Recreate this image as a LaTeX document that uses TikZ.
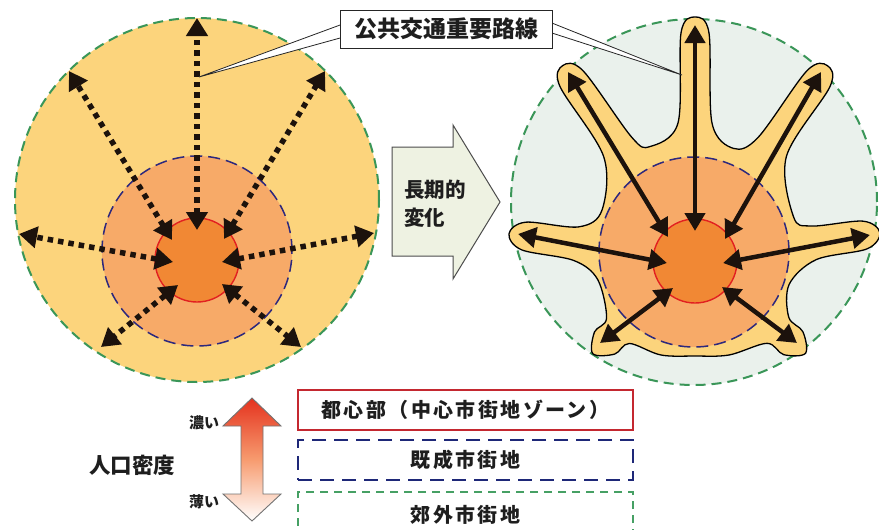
\documentclass[tikz,border=0pt]{standalone}
\usepackage{fontspec}
\newfontfamily\jp{Noto Sans CJK JP}
\usetikzlibrary{arrows.meta,calc}
\definecolor{outerfill}{RGB}{252,212,124}
\definecolor{midfill}{RGB}{247,170,104}
\definecolor{corefill}{RGB}{241,136,52}
\definecolor{rline}{RGB}{226,32,32}
\definecolor{gdash}{RGB}{58,150,88}
\definecolor{ndash}{RGB}{45,40,125}
\definecolor{rightfill}{RGB}{234,241,236}
\definecolor{starfill}{RGB}{252,212,124}
\definecolor{arrblack}{RGB}{28,18,12}
\definecolor{bigarrow}{RGB}{238,242,226}
\definecolor{legred}{RGB}{196,40,48}
\definecolor{legnavy}{RGB}{30,40,120}
\definecolor{leggreen}{RGB}{70,160,100}
\definecolor{denred}{RGB}{228,50,30}
\definecolor{txt}{RGB}{30,30,30}
\tikzset{
 greendash/.style={draw=gdash, line width=2pt, dash pattern=on 10pt off 6pt},
 navydash/.style={draw=ndash, line width=1.5pt, dash pattern=on 12pt off 6pt},
 redline/.style={draw=rline, line width=1.4pt},
 dotarrow/.style={draw=arrblack, line width=5.5pt, dash pattern=on 5.5pt off 5pt,
   arrows={Triangle[length=18pt,width=21pt]-Triangle[length=18pt,width=21pt]}},
 solidarrow/.style={draw=arrblack, line width=4.5pt,
   arrows={Triangle[length=18pt,width=20pt]-Triangle[length=18pt,width=20pt]}},
 bigtxt/.style={font=\jp\bfseries\fontsize{23}{23}\selectfont, text=txt},
 midtxt/.style={font=\jp\bfseries\fontsize{20.5}{28}\selectfont, text=txt},
 poptxt/.style={font=\jp\bfseries\fontsize{21.5}{24}\selectfont, text=txt},
 legtxt/.style={font=\jp\bfseries\fontsize{20}{22}\addfontfeature{LetterSpace=12}\selectfont, text=txt},
 smalltxt/.style={font=\jp\bfseries\fontsize{15}{17}\selectfont, text=txt},
 legbox/.style={minimum width=335pt, minimum height=40pt, inner sep=0pt},
}
\begin{document}
\begin{tikzpicture}[x=1pt,y=1pt]
\clip (0,0) rectangle (879,-530);
\fill[white] (0,0) rectangle (879,-530);

% ---------- left diagram ----------
\coordinate (LO) at (197,-200);
\coordinate (LM) at (197,-251);
\coordinate (LC) at (197,-260);
\path[greendash, fill=outerfill] (LO) circle[radius=182];
\path[navydash, fill=midfill] (LM) circle[radius=95];
\path[redline, fill=corefill] (LC) circle[radius=42];
\foreach \n/\ox/\oy/\ix/\iy in {U/0/242/0/30, UL/-128/189/-25/20, UR/128/189/27/21,
   L/-178/26/-24/-2, R/177/27/25/-2, LL/-96/-87/-19/-25, LR/104/-87/25/-24}{
  \coordinate (Lo\n) at ($(LC)+(\ox,\oy)$);
  \coordinate (Li\n) at ($(LC)+(\ix,\iy)$);
  \draw[dotarrow] (Li\n) -- (Lo\n);
}

% ---------- right diagram ----------
\coordinate (RO) at (694,-202);
\coordinate (RM) at (694,-252);
\coordinate (RC) at (695,-261);
\path[greendash, fill=rightfill] (RO) circle[radius=183];
% star outline points
\foreach \f/\p/\T/\a/\w/\b/\wb in {fR/8.7/187/172/14/120/17, fUR/55.9/236/220/14/138/17,
   fU/90/244/228/14/138/17, fUL/124.1/236/220/14/138/17, fL/171.7/188/173/14/120/17,
   fLL/222.2/138/122/15/104/17, fLR/320.1/144/128/15/108/17}{
  \coordinate (\f-1) at ($(RC)+(\p:\b)+(\p-90:\wb)$);
  \coordinate (\f-2) at ($(RC)+(\p:\a)+(\p-90:\w)$);
  \coordinate (\f-3) at ($(RC)+(\p:\T)$);
  \coordinate (\f-4) at ($(RC)+(\p:\a)+(\p+90:\w)$);
  \coordinate (\f-5) at ($(RC)+(\p:\b)+(\p+90:\wb)$);
}
\foreach \v/\p/\r in {v1/346/97, v2/24.2/108, v3/71.1/119, v4/111.5/123,
   v5/151.4/106, v6/190.9/99, v7/250/100, v8/270/95, v9/290/100}{
  \coordinate (\v) at ($(RC)+(\p:\r)$);
}
\path[draw=black, line width=1.3pt, fill=starfill] plot[smooth cycle, tension=0.55] coordinates {
  (fLR-1) (fLR-2) (fLR-3) (fLR-4) (fLR-5) (v1)
  (fR-1) (fR-2) (fR-3) (fR-4) (fR-5) (v2)
  (fUR-1) (fUR-2) (fUR-3) (fUR-4) (fUR-5) (v3)
  (fU-1) (fU-2) (fU-3) (fU-4) (fU-5) (v4)
  (fUL-1) (fUL-2) (fUL-3) (fUL-4) (fUL-5) (v5)
  (fL-1) (fL-2) (fL-3) (fL-4) (fL-5) (v6)
  (fLL-1) (fLL-2) (fLL-3) (fLL-4) (fLL-5) (v7) (v8) (v9)};
\path[navydash, fill=midfill] (RM) circle[radius=95];
\path[redline, fill=corefill] (RC) circle[radius=42];
\foreach \n/\ox/\oy/\ix/\iy in {U/0/236/0/30, UL/-127/189/-27/24, UR/126/189/30/22,
   L/-177/27/-28/-2, R/175/26/28/-2, LL/-95/-82/-22/-27, LR/102/-82/27/-26}{
  \coordinate (Ro\n) at ($(RC)+(\ox,\oy)$);
  \coordinate (Ri\n) at ($(RC)+(\ix,\iy)$);
  \draw[solidarrow] (Ri\n) -- (Ro\n);
}

% ---------- callout ----------
\node[bigtxt, draw=black!85, line width=1pt, fill=white, minimum width=212pt,
  minimum height=38pt, inner sep=0pt] (CO) at (446,-29) {};
\coordinate (callL) at (199,-77);
\coordinate (callR) at (682,-75);
\path[fill=white, draw=black!85, line width=0.8pt]
  ($(CO.west)+(0.6,4)$) -- (callL) -- ($(CO.west)+(0.6,-9)$);
\path[fill=white, draw=black!85, line width=0.8pt]
  ($(CO.east)+(-0.6,6)$) -- (callR) -- ($(CO.east)+(-0.6,-4)$);
\node[bigtxt, draw=black!85, line width=1pt, fill=white, minimum width=212pt,
  minimum height=38pt, inner sep=0pt] (COB) at (CO) {公共交通重要路線};

% ---------- big arrow ----------
\coordinate (BA1) at (392,-147);
\coordinate (BA2) at (453,-147);
\coordinate (BA3) at (453,-125);
\coordinate (BA4) at (500,-202);
\coordinate (BA5) at (453,-279);
\coordinate (BA6) at (453,-256);
\coordinate (BA7) at (392,-256);
\path[fill=bigarrow, draw=black!70, line width=1pt]
  (BA1) -- (BA2) -- (BA3) -- (BA4) -- (BA5) -- (BA6) -- (BA7) -- cycle;
\node[midtxt, anchor=west, align=left, inner sep=0pt] (CH) at (404,-204) {長期的\\変化};

% ---------- density arrow ----------
\coordinate (DA1) at (252,-398);
\coordinate (DA2) at (281,-426);
\coordinate (DA3) at (263,-426);
\coordinate (DA4) at (263,-494);
\coordinate (DA5) at (281,-494);
\coordinate (DA6) at (252,-521);
\coordinate (DA7) at (223,-494);
\coordinate (DA8) at (241,-494);
\coordinate (DA9) at (241,-426);
\coordinate (DA10) at (223,-426);
\path[top color=denred, bottom color=white, middle color=denred!50!orange!60, draw=black!55, line width=0.9pt]
  (DA1) -- (DA2) -- (DA3) -- (DA4) -- (DA5) -- (DA6) -- (DA7) -- (DA8) -- (DA9) -- (DA10) -- cycle;
\node[smalltxt] (dense) at (204,-423) {濃い};
\node[smalltxt] (thin) at (204,-502) {薄い};
\node[poptxt] (pop) at (132,-465) {人口密度};

% ---------- legend ----------
\node[legbox, legtxt, draw=legred, line width=1.6pt] (LG1) at (465.5,-410) {都心部（中心市街地ゾーン）};
\node[legbox, legtxt, draw=legnavy, line width=2pt, dash pattern=on 14pt off 8pt] (LG2) at (465.5,-460) {既成市街地};
\node[legbox, legtxt, draw=leggreen, line width=1.6pt, dash pattern=on 8pt off 6pt,
  minimum height=46pt] (LG3) at (465.5,-515) {郊外市街地};
\end{tikzpicture}
\end{document}
